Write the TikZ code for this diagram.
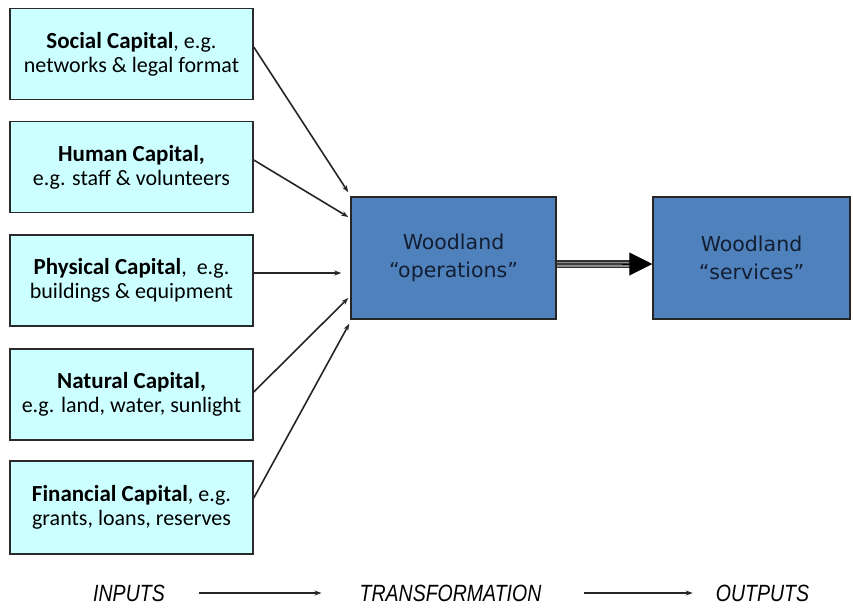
\documentclass[tikz,border=0pt]{standalone}
\usepackage{fontspec}
\setmainfont{Carlito}
\newfontfamily\wlfont{DejaVu Sans}
\newfontfamily\flowfont{Liberation Sans}
\usetikzlibrary{arrows.meta,calc}
\definecolor{capfill}{HTML}{CCFFFF}
\definecolor{opsfill}{HTML}{4F81BD}
\definecolor{opstext}{HTML}{141E32}
\definecolor{edge}{HTML}{2A2A2A}

\begin{document}
\begin{tikzpicture}[x=1pt,y=-1pt,
  capbox/.style={draw=edge, line width=1.5pt, fill=capfill,
    minimum width=243pt, minimum height=91pt, inner sep=0pt,
    align=center, font=\fontsize{22}{24}\selectfont},
  wbox/.style={draw=black!85, line width=1.5pt, fill=opsfill,
    minimum height=122pt, inner sep=0pt, align=center, text=opstext,
    font=\wlfont\fontsize{20.5}{28}\selectfont},
  feed/.style={draw=black!85, line width=1.6pt, -{Stealth[length=7pt,width=5pt]}},
  flow/.style={inner sep=0pt, font=\flowfont\itshape\fontsize{23.5}{26}\selectfont},
  flowarrow/.style={draw=black!85, line width=1.5pt, -{Stealth[length=7pt,width=5pt]}}
]
\useasboundingbox (0,0) rectangle (853,613);

% the five kinds of capital
\node[capbox] (soc) at (131.5,54)
  {{\bfseries\fontsize{23}{24}\selectfont Social Capital}, e.g.\\networks \& legal format};
\node[capbox] (hum) at (131.5,167)
  {{\bfseries\fontsize{23}{24}\selectfont Human Capital,}\\e.g. staff \& volunteers};
\node[capbox] (phy) at (131.5,280.5)
  {{\bfseries\fontsize{23}{24}\selectfont Physical Capital},\ \ e.g.\\buildings \& equipment};
\node[capbox] (nat) at (131.5,394.5)
  {{\bfseries\fontsize{23}{24}\selectfont Natural Capital,}\\e.g. land, water, sunlight};
\node[capbox, minimum height=93pt] (fin) at (131.5,507.5)
  {{\bfseries\fontsize{23}{24}\selectfont Financial Capital}, e.g.\\grants, loans, reserves};

% transformation and outputs
\node[wbox, minimum width=205pt] (ops) at (453.5,258) {Woodland\\“operations”};
\node[wbox, minimum width=197pt] (svc) at (751.5,258) {Woodland\\“services”};

% inputs feeding the operations
\draw[feed] ([yshift=7pt]soc.east) -- ($(ops.north west)+(-2,-4)$);
\draw[feed] ([yshift=7pt]hum.east) -- ($(ops.west)+(-2,-41)$);
\draw[feed] ([yshift=7.5pt]phy.east) -- ($(ops.west)+(-9,15)$);
\draw[feed] ([yshift=2.5pt]nat.east) -- ($(ops.west)+(-2,40)$);
\draw[feed] ([yshift=9.5pt]fin.east) -- ($(ops.south west)+(-1,4)$);

% striped double arrow from operations to services
\coordinate (da) at ([yshift=-6pt]ops.east);
\coordinate (db) at ([yshift=-6pt]svc.west);
\draw[line width=8pt, black!80, shorten >=21pt] (da) -- (db);
\draw[line width=5pt, black!45, shorten >=21pt] (da) -- (db);
\draw[line width=1.5pt, black!75, shorten >=21pt] (da) -- (db);
\draw[line width=1pt, -{Triangle[length=23pt,width=23pt]}] ($(db)+(-30,0)$) -- (db);

% bottom flow line
\node[flow] (inp) at (129,593) {\scalebox{0.83}[1]{INPUTS}};
\node[flow] (trf) at (450.5,593) {\scalebox{0.83}[1]{TRANSFORMATION}};
\node[flow] (outp) at (762.5,593) {\scalebox{0.83}[1]{OUTPUTS}};
\draw[flowarrow, shorten <=34pt, shorten >=38pt] (inp.east) -- (trf.west);
\draw[flowarrow, shorten <=42pt, shorten >=23pt] (trf.east) -- (outp.west);
\end{tikzpicture}
\end{document}
